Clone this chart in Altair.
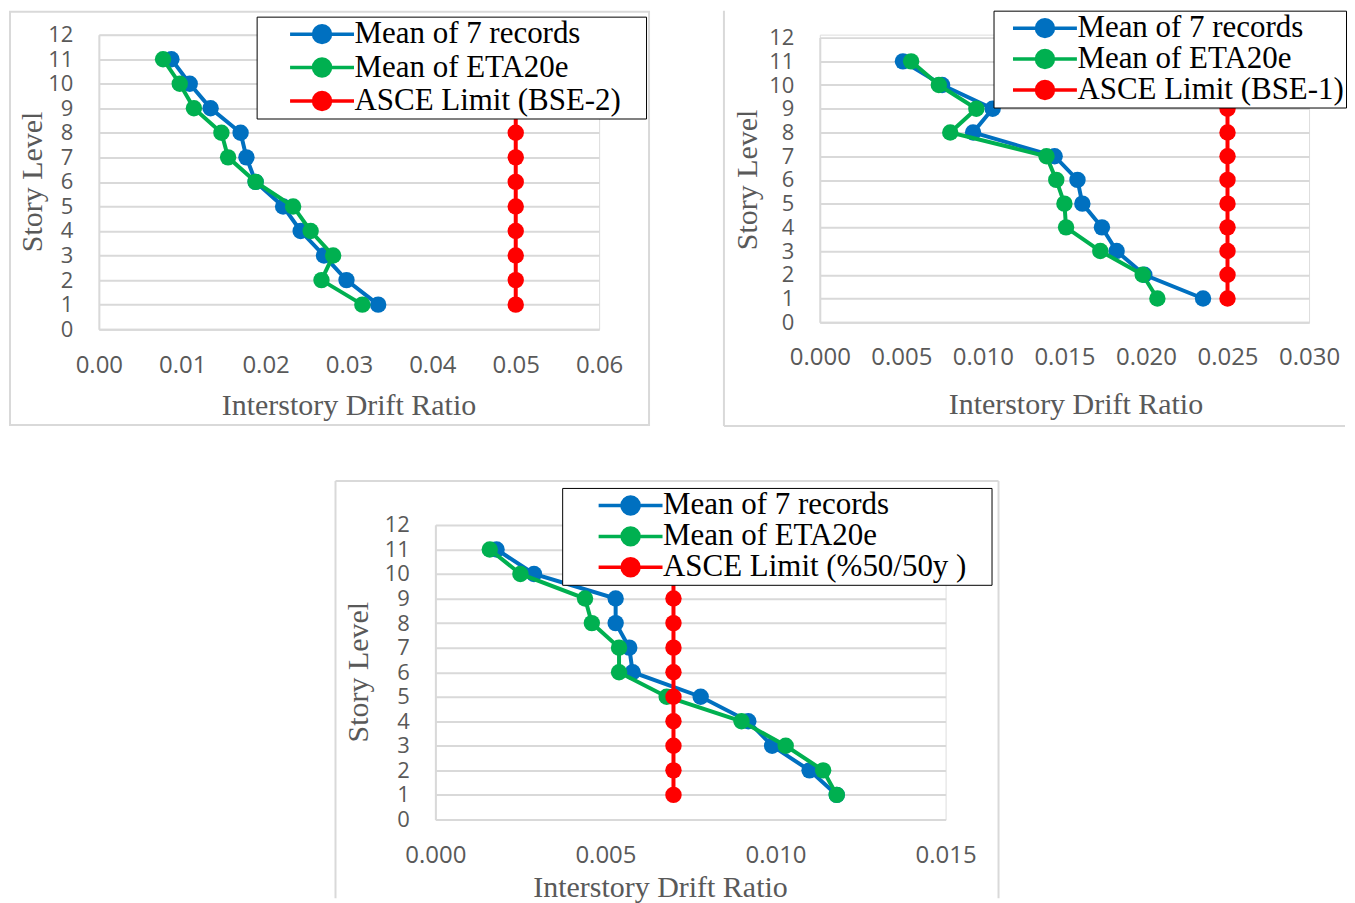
import altair as alt
import pandas as pd

stories = [1, 2, 3, 4, 5, 6, 7, 8, 9, 10, 11]

p1_mean7 = [0.0335, 0.0297, 0.0270, 0.0242, 0.0221, 0.0188, 0.0177, 0.0170, 0.0134, 0.0109, 0.0087]
p1_eta = [0.0316, 0.0267, 0.0281, 0.0254, 0.0233, 0.0188, 0.0155, 0.0147, 0.0114, 0.0097, 0.0077]
p1_limit = [0.05] * 11

p2_mean7 = [0.0235, 0.0199, 0.0182, 0.0173, 0.0161, 0.0158, 0.0144, 0.0094, 0.0106, 0.0075, 0.0051]
p2_eta = [0.0207, 0.0198, 0.0172, 0.0151, 0.0150, 0.0145, 0.0139, 0.0080, 0.0096, 0.0073, 0.0056]
p2_limit = [0.025] * 11

p3_mean7 = [0.0118, 0.0110, 0.0099, 0.0092, 0.0078, 0.0058, 0.0057, 0.0053, 0.0053, 0.0029, 0.0018]
p3_eta = [0.0118, 0.0114, 0.0103, 0.0090, 0.0068, 0.0054, 0.0054, 0.0046, 0.0044, 0.0025, 0.0016]
p3_limit = [0.007] * 11

series_names = ["Mean of 7 records", "Mean of ETA20e"]
limit_names = ["ASCE Limit (BSE-2)", "ASCE Limit (BSE-1)", "ASCE Limit (%50/50y )"]
colors = ["#0070C0", "#00B050", "#FF0000"]

x_ticks_1 = [0.0, 0.01, 0.02, 0.03, 0.04, 0.05, 0.06]
x_ticks_2 = [0.0, 0.005, 0.01, 0.015, 0.02, 0.025, 0.03]
x_ticks_3 = [0.0, 0.005, 0.01, 0.015]
y_ticks = list(range(0, 13))

SERIF = "Liberation Serif"
SANS = "Open Sans"
GRAY_TXT = "#595959"
GRID = "#d9d9d9"
PADCH = "\u2800"  # blank, non-whitespace: widens the legend box on the right

# legend symbol: horizontal line with a filled (ring-stacked) circle
rings = [0.708, 0.458, 0.208, 0.042]
sym = "M-2.667,0L2.667,0"
for r in rings:
    sym += f"M{r},0A{r},{r},0,1,1,{-r},0A{r},{r},0,1,1,{r},0"


def panel(mean7, eta, limit, limit_name, xdom, xticks, xfmt, w, h, yrange,
          leg, axis_pos, frame_layers):
    names = series_names + [limit_name]
    rows = []
    for nm, vals in zip(names, [mean7, eta, limit]):
        for s, v in zip(stories, vals):
            rows.append({"story": s, "drift": v, "series": nm})
    df = pd.DataFrame(rows)

    legend = alt.Legend(
        orient="none", legendX=leg["x"], legendY=leg["y"], title=None,
        direction="vertical", fillColor="white", strokeColor="black",
        padding=leg["pad"], symbolType=sym, symbolSize=576,
        symbolStrokeWidth=3.5, symbolOffset=leg["so"], labelOffset=17,
        labelFont=SERIF, labelFontSize=31, labelColor="black",
        rowPadding=leg["rp"], labelLimit=0,
        labelExpr="datum.label + '" + PADCH * leg["nb"] + "'", zindex=1,
        symbolOpacity=1,
    )
    color = alt.Color("series:N", scale=alt.Scale(domain=names, range=colors),
                      legend=legend)
    ysc = alt.Scale(domain=[0, 12], nice=False)
    if yrange is not None:
        ysc = alt.Scale(domain=[0, 12], nice=False, range=yrange)
    xenc = alt.X("drift:Q", scale=alt.Scale(domain=xdom, nice=False),
                 axis=alt.Axis(values=xticks, format=xfmt, grid=False,
                               ticks=False, tickSize=0, labelFlush=False,
                               labelOverlap=False, labelFont=SANS,
                               labelFontSize=24, labelColor=GRAY_TXT,
                               labelPadding=axis_pos["xlp"],
                               domainColor=GRID, domainWidth=2,
                               title="Interstory Drift Ratio",
                               titleFont=SERIF, titleFontSize=30,
                               titleFontWeight="normal", titleColor=GRAY_TXT,
                               titleX=axis_pos["xtx"], titleY=axis_pos["xty"],
                               titleBaseline="alphabetic", titleAlign="center"))
    yenc = alt.Y("story:Q", scale=ysc,
                 axis=alt.Axis(values=y_ticks, format="d", grid=True,
                               gridColor=GRID, gridWidth=2, ticks=False,
                               tickSize=0, labelFlush=False, labelOverlap=False,
                               labelFont=SANS, labelFontSize=axis_pos["ylf"],
                               labelColor=GRAY_TXT, labelPadding=26,
                               domainColor=GRID, domainWidth=2,
                               title="Story Level", titleFont=SERIF,
                               titleFontSize=30, titleFontWeight="normal",
                               titleColor=GRAY_TXT, titleX=axis_pos["ytx"],
                               titleY=axis_pos["yty"], titleBaseline="middle",
                               titleAlign="center", titleAngle=270))
    layers = list(frame_layers)
    base = alt.Chart(df)
    for i, nm in enumerate(names):
        sub = base.transform_filter(alt.datum.series == nm)
        line = sub.mark_line(strokeWidth=4).encode(
            x=xenc, y=yenc, color=color, order=alt.Order("story:Q"))
        pts = sub.mark_point(filled=True, size=270, opacity=1).encode(
            x=xenc, y=yenc, color=color)
        layers += [line, pts]
    return alt.layer(*layers).properties(width=w, height=h)


one = pd.DataFrame({"k": [0]})


def rule(**kw):
    return alt.Chart(one).mark_rule(color=GRID, strokeWidth=2).encode(
        **{k: alt.value(v) for k, v in kw.items()})


# panel 1 (BSE-2)
f1 = [alt.Chart(one).mark_rect(filled=False, stroke=GRID, strokeWidth=2).encode(
    x=alt.value(-89), x2=alt.value(551), y=alt.value(-23), y2=alt.value(391))]
p1 = panel(p1_mean7, p1_eta, p1_limit, limit_names[0], [0, 0.06], x_ticks_1, ".2f",
           501, 295, None,
           {"x": 158, "y": -18, "pad": 2, "so": 48, "rp": 1.5, "nb": 1},
           {"xlp": 24, "xtx": 250, "xty": 85, "ytx": -66, "yty": 147, "ylf": 22}, f1)

# panel 2 (BSE-1)
f2 = [rule(x=-96, y=-24, y2=392), rule(x=-96, x2=526, y=392)]
p2 = panel(p2_mean7, p2_eta, p2_limit, limit_names[1], [0, 0.03], x_ticks_2, ".3f",
           490, 288, [288, 3],
           {"x": 174, "y": -24, "pad": 2, "so": 34, "rp": -2, "nb": 0},
           {"xlp": 23, "xtx": 256, "xty": 91, "ytx": -72, "yty": 145, "ylf": 22}, f2)

# panel 3 (%50/50y)
f3 = [rule(x=-100, y=-44, y2=374), rule(x=-100, x2=564, y=-44),
      rule(x=564, y=-44, y2=374)]
p3 = panel(p3_mean7, p3_eta, p3_limit, limit_names[2], [0, 0.015], x_ticks_3, ".3f",
           511, 295, None,
           {"x": 127, "y": -37, "pad": 2, "so": 51, "rp": -2, "nb": 1},
           {"xlp": 24, "xtx": 225, "xty": 77, "ytx": -77, "yty": 147, "ylf": 22}, f3)

spacer = alt.Chart(one).mark_point(opacity=0).properties(width=337, height=1)

top = alt.hconcat(p1, p2, spacing=221, bounds="flush").resolve_scale(
    color="independent").resolve_legend(color="independent")
bottom = alt.hconcat(spacer, p3, spacing=0, bounds="flush").resolve_scale(
    color="independent").resolve_legend(color="independent")
chart = alt.vconcat(top, bottom, spacing=491, bounds="flush", padding=0).resolve_scale(
    color="independent").resolve_legend(color="independent").configure_view(
    strokeWidth=0).configure_legend(strokeWidth=3).configure(background="white")

chart.save("out.html", embed_options={"renderer": "svg", "actions": False})
